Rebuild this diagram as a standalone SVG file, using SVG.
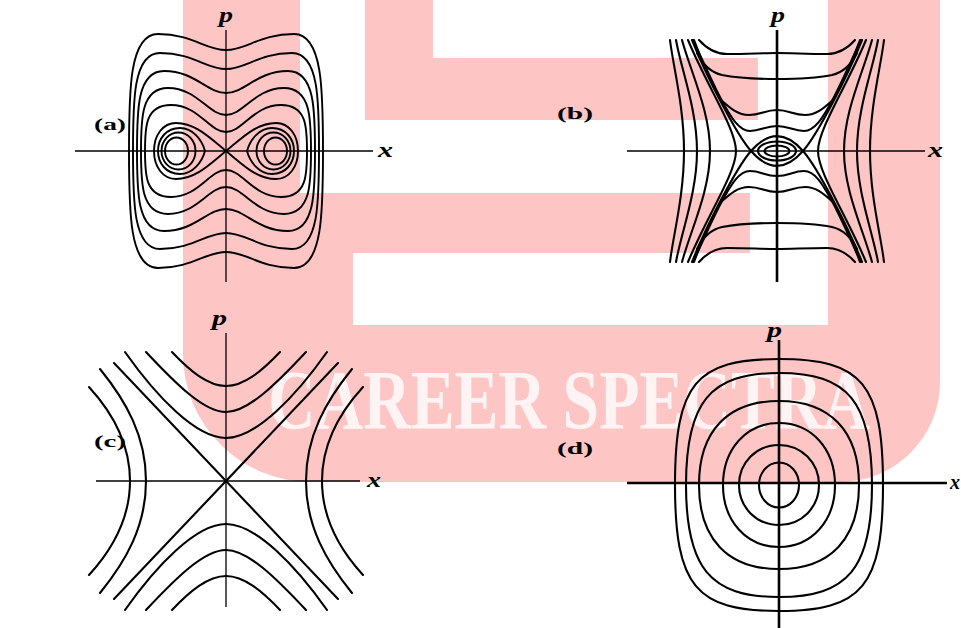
<svg xmlns="http://www.w3.org/2000/svg" width="961" height="628" viewBox="0 0 961 628">
<style>
.bg{fill:#fff}
.wm{fill:#fec5c5}
.wmc{fill:#fff}
.wmt{fill:#fff3f3;font-family:"Liberation Serif",serif;font-weight:bold;font-size:84px}
.c{fill:none;stroke:#000;stroke-width:1.9;stroke-linejoin:round;stroke-linecap:round}
.cb{fill:none;stroke:#000;stroke-width:2.1;stroke-linejoin:round;stroke-linecap:round}
.ax{stroke:#000;stroke-width:1.3}
.axb{stroke:#000;stroke-width:2.6}
.lab{font-family:"Liberation Serif",serif;font-weight:bold;font-size:17px;fill:#000}
.var{font-family:"Liberation Serif",serif;font-style:italic;font-weight:bold;font-size:21px;fill:#000}
</style>
<defs>
  <g id="a-island">
    <path class="c" d="M21 0 C24 -11 33 -23 46 -23 C60 -23 68 -12 68 0 C68 12 60 23 46 23 C33 23 24 11 21 0 Z"/>
    <ellipse class="c" cx="47.5" cy="0" rx="17" ry="18.5"/>
    <ellipse class="c" cx="49.5" cy="0" rx="11.5" ry="13.5"/>
  </g>
  <g id="b-top">
    <path class="cb" d="M-78 -111 C-70 -102 -62 -97 -50 -97 C-30 -97 -15 -98 0 -98 C15 -98 30 -97 50 -97 C62 -97 70 -102 78 -111"/>
    <path class="cb" d="M-80 -98 C-75 -88 -68 -79 -55 -76 C-40 -73 -25 -72 0 -72 C25 -72 40 -73 55 -76 C68 -79 75 -88 80 -98"/>
    <path class="cb" d="M-83 -111 C-76 -92 -66 -68 -57 -52 C-48 -44 -40 -36 -28 -36 C-16 -36 -12 -41 0 -41 C12 -41 16 -36 28 -36 C40 -36 48 -44 57 -52 C66 -68 76 -92 83 -111"/>
    <path class="cb" d="M-84 -111 C-74 -90 -62 -62 -53 -46.5 C-46 -34 -38 -20 -27 -20 C-16 -20 -12 -25 0 -25 C12 -25 16 -20 27 -20 C38 -20 46 -34 53 -46.5 C62 -62 74 -90 84 -111"/>
  </g>
  <g id="b-side">
    <path class="cb" d="M89 -111 C70 -65 41 -22 41 0 C41 22 70 65 89 111"/>
    <path class="cb" d="M95 -111 C86 -78 67 -40 67 0 C67 40 86 78 95 111"/>
    <path class="cb" d="M101 -111 C96 -82 80 -42 80 0 C80 42 96 82 101 111"/>
    <path class="cb" d="M107 -111 C104 -85 93 -45 93 0 C93 45 104 85 107 111"/>
  </g>
  <g id="c-top">
    <path class="cb" d="M-54 -129 C-36 -110 -18 -95 0 -95 C18 -95 36 -110 54 -129"/>
    <path class="cb" d="M-80 -129 C-50 -97 -22 -69 0 -69 C22 -69 50 -97 80 -129"/>
    <path class="cb" d="M-101 -129 C-70 -85 -30 -43 0 -43 C30 -43 70 -85 101 -129"/>
  </g>
  <g id="c-side">
    <path class="cb" d="M126 -112 C100 -80 80 -45 80 0 C80 45 100 80 126 112"/>
    <path class="cb" d="M137 -94 C115 -70 96 -40 96 0 C96 40 115 70 137 94"/>
  </g>
</defs>

<rect class="bg" x="0" y="0" width="961" height="628"/>

<g id="watermark">
  <path class="wm" d="M183 -5 H940 V382 A100 100 0 0 1 840 482 H311 A128 128 0 0 1 183 354 Z"/>
  <rect class="wmc" x="300" y="-5" width="65" height="198"/>
  <rect class="wmc" x="433" y="-5" width="395" height="63"/>
  <rect class="wmc" x="300" y="120" width="528" height="73"/>
  <rect class="wmc" x="758" y="-5" width="70" height="198"/>
  <rect class="wmc" x="750" y="193" width="78" height="132"/>
  <rect class="wmc" x="353" y="253" width="475" height="72"/>
  <text class="wmt" x="268" y="429" textLength="602" lengthAdjust="spacingAndGlyphs">CAREER SPECTRA</text>
</g>

<g id="panel-a">
  <text class="lab" x="94" y="130" textLength="32" lengthAdjust="spacingAndGlyphs">(a)</text>
  <text class="var" x="219" y="22" textLength="14" lengthAdjust="spacingAndGlyphs">p</text>
  <text class="var" x="378" y="157" textLength="15" lengthAdjust="spacingAndGlyphs">x</text>
  <g transform="translate(226,151)">
    <line class="ax" x1="-151" y1="0" x2="147" y2="0"/>
    <line class="ax" x1="0" y1="-121" x2="0" y2="131"/>
    <path class="c" d="M0 -101 C20.4 -101 34 -117 68 -117 C97 -117 97 -58.5 97 0 C97 58.5 97 117 68 117 C34 117 20.4 101 0 101 C-20.4 101 -34 117 -68 117 C-97 117 -97 58.5 -97 0 C-97 -58.5 -97 -117 -68 -117 C-34 -117 -20.4 -101 0 -101 Z"/>
    <path class="c" d="M0 -82 C19.8 -82 33 -98 66 -98 C93 -98 93 -49 93 0 C93 49 93 98 66 98 C33 98 19.8 82 0 82 C-19.8 82 -33 98 -66 98 C-93 98 -93 49 -93 0 C-93 -49 -93 -98 -66 -98 C-33 -98 -19.8 -82 0 -82 Z"/>
    <path class="c" d="M0 -58 C18.6 -58 31 -80 62 -80 C89 -80 89 -40 89 0 C89 40 89 80 62 80 C31 80 18.6 58 0 58 C-18.6 58 -31 80 -62 80 C-89 80 -89 40 -89 0 C-89 -40 -89 -80 -62 -80 C-31 -80 -18.6 -58 0 -58 Z"/>
    <path class="c" d="M0 -36 C17.4 -36 29 -63 58 -63 C85 -63 85 -31.5 85 0 C85 31.5 85 63 58 63 C29 63 17.4 36 0 36 C-17.4 36 -29 63 -58 63 C-85 63 -85 31.5 -85 0 C-85 -31.5 -85 -63 -58 -63 C-29 -63 -17.4 -36 0 -36 Z"/>
    <path class="c" d="M0 -19 C16.5 -19 27.5 -46 55 -46 C81 -46 81 -23 81 0 C81 23 81 46 55 46 C27.5 46 16.5 19 0 19 C-16.5 19 -27.5 46 -55 46 C-81 46 -81 23 -81 0 C-81 -23 -81 -46 -55 -46 C-27.5 -46 -16.5 -19 0 -19 Z"/>
    <path class="c" d="M0 0 C15 -12 30 -28 50 -28 C63 -28 72 -16 72 0 C72 16 63 28 50 28 C30 28 15 12 0 0 C-15 -12 -30 -28 -50 -28 C-63 -28 -72 -16 -72 0 C-72 16 -63 28 -50 28 C-30 28 -15 12 0 0 Z"/>
    <use href="#a-island"/>
    <use href="#a-island" transform="scale(-1,1)"/>
  </g>
</g>

<g id="panel-b">
  <text class="lab" x="557" y="119" textLength="36" lengthAdjust="spacingAndGlyphs">(b)</text>
  <text class="var" x="771" y="22" textLength="14" lengthAdjust="spacingAndGlyphs">p</text>
  <text class="var" x="928" y="157" textLength="15" lengthAdjust="spacingAndGlyphs">x</text>
  <g transform="translate(777,151)">
    <line class="ax" x1="-150" y1="0" x2="148" y2="0"/>
    <line class="axb" x1="0" y1="-121" x2="0" y2="131"/>
    <path class="cb" d="M26 0 C41 -17 71 -76 85 -111 M26 0 C41 17 71 76 85 111 M-26 0 C-41 -17 -71 -76 -85 -111 M-26 0 C-41 17 -71 76 -85 111"/>
    <path class="cb" d="M-26 0 Q0 -29.7 26 0 Q0 29.7 -26 0 Z"/>
    <ellipse class="cb" cx="0" cy="0" rx="19" ry="9.5"/>
    <ellipse class="cb" cx="0" cy="0" rx="12.5" ry="5.5"/>
    <use href="#b-top"/>
    <use href="#b-top" transform="scale(1,-1)"/>
    <use href="#b-side"/>
    <use href="#b-side" transform="scale(-1,1)"/>
  </g>
</g>

<g id="panel-c">
  <text class="lab" x="94" y="447" textLength="32" lengthAdjust="spacingAndGlyphs">(c)</text>
  <text class="var" x="212" y="325" textLength="15" lengthAdjust="spacingAndGlyphs">p</text>
  <text class="var" x="367" y="487" textLength="14" lengthAdjust="spacingAndGlyphs">x</text>
  <g transform="translate(226,481)">
    <line class="ax" x1="-130" y1="0" x2="134" y2="0"/>
    <line class="ax" x1="0" y1="-148" x2="0" y2="126"/>
    <path class="cb" d="M-112 -118 L112 118 M112 -118 L-112 118"/>
    <use href="#c-top"/>
    <use href="#c-top" transform="scale(1,-1)"/>
    <use href="#c-side"/>
    <use href="#c-side" transform="scale(-1,1)"/>
  </g>
</g>

<g id="panel-d">
  <text class="lab" x="557" y="454" textLength="36" lengthAdjust="spacingAndGlyphs">(d)</text>
  <text class="var" x="767" y="337" textLength="15" lengthAdjust="spacingAndGlyphs">p</text>
  <text class="var" x="950" y="489" textLength="10" lengthAdjust="spacingAndGlyphs">x</text>
  <g transform="translate(779,483)">
    <line class="axb" x1="-152" y1="0" x2="168" y2="0"/>
    <line class="axb" x1="0" y1="-143" x2="0" y2="145"/>
  </g>
  <g transform="translate(779,485)">
    <path class="cb" d="M104 0 C104 100.8 83.2 126 0 126 C-83.2 126 -104 100.8 -104 0 C-104 -100.8 -83.2 -126 0 -126 C83.2 -126 104 -100.8 104 0 Z"/>
    <path class="cb" d="M93 0 C93 82.9 68.8 112 0 112 C-68.8 112 -93 82.9 -93 0 C-93 -82.9 -68.8 -112 0 -112 C68.8 -112 93 -82.9 93 0 Z"/>
    <path class="cb" d="M80 0 C80 53.8 51.2 84 0 84 C-51.2 84 -80 53.8 -80 0 C-80 -53.8 -51.2 -84 0 -84 C51.2 -84 80 -53.8 80 0 Z"/>
    <path class="cb" d="M56 0 C56 36 32.5 62 0 62 C-32.5 62 -56 36 -56 0 C-56 -36 -32.5 -62 0 -62 C32.5 -62 56 -36 56 0 Z"/>
    <path class="cb" d="M40 0 C40 22.4 22.4 40 0 40 C-22.4 40 -40 22.4 -40 0 C-40 -22.4 -22.4 -40 0 -40 C22.4 -40 40 -22.4 40 0 Z"/>
    <path class="cb" d="M20 0 C20 12.5 11.1 22.5 0 22.5 C-11.1 22.5 -20 12.5 -20 0 C-20 -12.5 -11.1 -22.5 0 -22.5 C11.1 -22.5 20 -12.5 20 0 Z"/>
  </g>
</g>
</svg>
